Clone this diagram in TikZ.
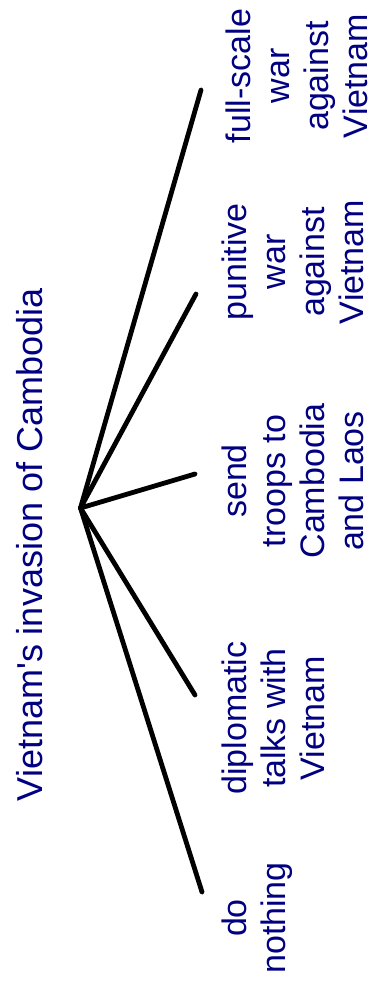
\documentclass[tikz,border=0pt]{standalone}
\usepackage{fontspec}
\setmainfont{Liberation Sans}[Ligatures=TeXOff]
\usetikzlibrary{positioning}
\definecolor{labelnavy}{RGB}{0,0,128}
\tikzset{
  branch/.style = {line width=4.8pt, black, line cap=round},
  choice/.style = {rotate=90, anchor=north, align=center, inner sep=0pt,
                   text=labelnavy, font=\fontsize{34}{39}\selectfont},
  rootlabel/.style = {rotate=90, anchor=base, inner sep=0pt,
                   text=labelnavy, font=\fontsize{36}{42}\selectfont},
}

\begin{document}
\begin{tikzpicture}[x=1pt, y=-1pt]
  \useasboundingbox (0,0) rectangle (373,988);
  \node[rootlabel] (invasion) at (42,545) {Vietnam's invasion of Cambodia};
  \coordinate (hub) at (80.5,508);
  \coordinate (endfull) at (201,90);
  \coordinate (endpunitive) at (196,294);
  \coordinate (endtroops) at (195,474);
  \coordinate (enddiplo) at (195,695);
  \coordinate (endnothing) at (202,892);
  \draw[branch] (hub) -- (endfull);
  \draw[branch] (hub) -- (endpunitive);
  \draw[branch] (hub) -- (endtroops);
  \draw[branch] (hub) -- (enddiplo);
  \draw[branch] (hub) -- (endnothing);
  \node[choice] (full) at (226,76) {full-scale\\war\\against\\Vietnam};
  \node[choice] (punitive) at (222,262) {punitive\\war\\against\\Vietnam};
  \node[choice] (troops) at (222,481) {send\\troops to\\Cambodia\\and Laos};
  \node[choice] (diplo) at (222,718) {diplomatic\\talks with\\Vietnam};
  \node[choice] (nothing) at (222,918) {do\\nothing};
\end{tikzpicture}
\end{document}
